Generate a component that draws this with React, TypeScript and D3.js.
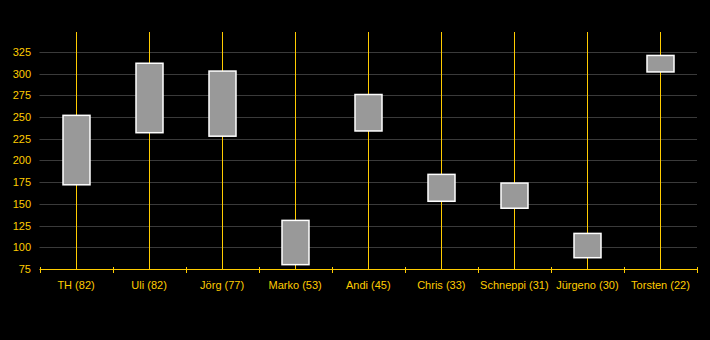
import React from "react";
import * as d3 from "d3";

const categories = ["TH (82)", "Uli (82)", "Jörg (77)", "Marko (53)", "Andi (45)", "Chris (33)", "Schneppi (31)", "Jürgeno (30)", "Torsten (22)"];
const lowValues = [172, 232, 228, 80, 234, 153, 145, 88, 302];
const highValues = [252, 312, 303, 131, 276, 184, 174, 116, 321];
const yTicks = [75, 100, 125, 150, 175, 200, 225, 250, 275, 300, 325];
const yDomain = [75, 348];

const W = 710, H = 340;
const M = { left: 39.5, right: 13, top: 32, bottom: 71 };
const YELLOW = "#ffcc00";
const FONT = "'Liberation Sans', Arial, sans-serif";

export default function App() {
  const x = d3.scaleBand<string>().domain(categories).range([M.left, W - M.right]).padding(0);
  const y = d3.scaleLinear().domain(yDomain).range([H - M.bottom, M.top]);
  const bw = x.bandwidth();
  const boxW = 27;
  const y0 = y(yDomain[0]);
  const edges = categories.map((c) => x(c)!).concat([x(categories[categories.length - 1])! + bw]);
  return (
    <svg width={W} height={H} style={{ display: "block", position: "absolute", left: 0, top: 0, background: "#000" }}>
      <rect x={0} y={0} width={W} height={H} fill="#000" />
      {yTicks.slice(1).map((t) => (
        <line key={t} x1={M.left} x2={W - M.right} y1={Math.round(y(t)) + 0.5} y2={Math.round(y(t)) + 0.5} stroke="#3a3a3a" strokeWidth={1} />
      ))}
      {yTicks.map((t) => (
        <text key={t} x={31} y={y(t) + 4} textAnchor="end" fill={YELLOW} fontSize={11} fontFamily={FONT}>{t}</text>
      ))}
      {categories.map((c) => {
        const cx = Math.round(x(c)! + bw / 2) + 0.5;
        return <line key={c} x1={cx} x2={cx} y1={y(yDomain[1])} y2={y0} stroke={YELLOW} strokeWidth={1} />;
      })}
      {categories.map((c, i) => {
        const cx = Math.round(x(c)! + bw / 2) + 0.5;
        const top = y(highValues[i]);
        const bot = y(lowValues[i]);
        return (
          <rect key={c} x={cx - boxW / 2} y={top} width={boxW} height={bot - top} fill="#999999" stroke="#ffffff" strokeWidth={1.5} />
        );
      })}
      <line x1={M.left} x2={W - M.right} y1={Math.round(y0) + 0.5} y2={Math.round(y0) + 0.5} stroke={YELLOW} strokeWidth={1} />
      {edges.map((e, i) => (
        <line key={i} x1={Math.round(e) + 0.5} x2={Math.round(e) + 0.5} y1={y0 - 2} y2={y0 + 4} stroke={YELLOW} strokeWidth={1} />
      ))}
      {categories.map((c) => (
        <text key={c} x={x(c)! + bw / 2} y={y0 + 20} textAnchor="middle" fill={YELLOW} fontSize={11} fontFamily={FONT}>{c}</text>
      ))}
    </svg>
  );
}
